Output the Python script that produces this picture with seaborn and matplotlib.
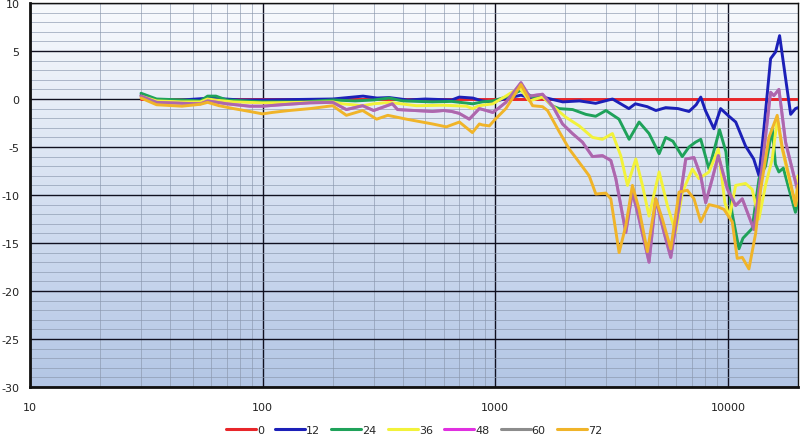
import numpy as np
import pandas as pd
import matplotlib
matplotlib.use("Agg")
import matplotlib.pyplot as plt
import matplotlib.ticker as mticker
from matplotlib.colors import LinearSegmentedColormap
import seaborn as sns

# ---------------- data ----------------
series_names = ["0", "12", "24", "36", "48", "60", "72"]
series_colors = ["#e8262a", "#1c20b8", "#1fa25a", "#f2f23a", "#e030e0", "#8c8c8c", "#f0b429"]

f_0 = [30, 20000]
db_0 = [0.0, 0.0]

f_12 = [30, 35, 45, 60, 80, 100, 200, 270, 310, 350, 420, 500, 650, 700, 800, 880, 975, 1110,
        1290, 1450, 1600, 1800, 1950, 2300, 2700, 3190, 3750, 4000, 4500, 4900, 5400, 6100,
        6800, 7300, 7640, 8000, 8700, 9300, 10100, 10800, 11900, 12900, 13600, 14270, 15250,
        16020, 16670, 17700, 18600, 19500, 20000]
db_12 = [0.4, -0.2, -0.1, 0.1, -0.1, -0.1, 0.0, 0.3, 0.1, 0.15, -0.1, 0.0, -0.1, 0.2, 0.1, -0.2, -0.3, 0.05,
         0.4, 0.0, 0.2, -0.1, -0.3, -0.2, -0.45, 0.0, -1.0, -0.5, -0.8, -1.2, -0.9, -1.0,
         -1.3, -0.6, 0.2, -1.2, -3.1, -1.0, -1.8, -2.4, -4.9, -6.25, -8.0, -3.1, 4.2,
         4.9, 6.6, 2.1, -1.6, -1.0, -0.9]

f_24 = [30, 35, 45, 54, 58, 63, 70, 100, 150, 200, 250, 300, 350, 400, 537, 650, 800, 880, 975, 1110,
        1290, 1450, 1600, 1750, 1880, 2150, 2450, 2700, 2990, 3400, 3760, 4150, 4580, 5060, 5400,
        5800, 6360, 6800, 7250, 7640, 8290, 9200, 9800, 10400, 11150, 11600, 12700, 13600, 14500,
        15500, 16000, 16550, 17300, 18300, 19500, 20000]
db_24 = [0.6, 0.0, -0.1, -0.2, 0.3, 0.3, -0.1, -0.3, -0.3, -0.1, -0.2, -0.1, 0.1, -0.2, -0.3, -0.25, -0.5, -0.3, -0.2, 0.2,
         0.9, 0.2, 0.3, -0.7, -1.0, -1.1, -1.6, -1.8, -1.2, -2.1, -4.2, -2.4, -3.6, -5.7, -4.0,
         -4.4, -6.0, -5.0, -4.5, -4.2, -7.3, -3.2, -5.5, -11.8, -15.6, -14.5, -13.5, -8.3, -7.0,
         -3.1, -6.8, -7.6, -7.2, -9.4, -11.8, -10.8]

f_36 = [30, 35, 45, 54, 58, 65, 75, 100, 150, 200, 220, 269, 300, 350, 458, 600, 751, 797, 854, 975, 1110,
        1268, 1400, 1596, 1760, 2010, 2294, 2616, 2887, 3187, 3460, 3700, 4017, 4290, 4580, 5060,
        5490, 5960, 6370, 7030, 7500, 8290, 9090, 9700, 10150, 10790, 11900, 12700, 13580, 14500,
        15500, 16280, 17100, 18280, 19530, 20000]
db_36 = [0.3, -0.2, -0.3, -0.3, 0.0, -0.15, -0.3, -0.4, -0.35, -0.3, -0.5, -0.7, -0.5, -0.35, -0.7, -0.65, -0.75, -1.0, -0.7, -0.5, 0.3,
         1.2, -0.2, 0.2, -0.7, -1.9, -2.8, -4.0, -4.2, -3.6, -5.9, -9.0, -6.25, -9.0, -12.2, -7.6,
         -11.1, -13.9, -9.7, -7.3, -8.3, -7.6, -5.2, -10.8, -12.3, -9.0, -8.8, -9.4, -12.5, -9.0,
         -6.25, -2.1, -5.2, -8.3, -11.1, -8.0]

f_48 = [30, 35, 45, 54, 58, 62, 70, 88, 100, 120, 160, 200, 229, 269, 300, 361, 380, 450, 537, 600, 650,
        700, 773, 854, 915, 975, 1040, 1110, 1289, 1400, 1596, 1760, 1945, 2146, 2370, 2616, 2887,
        3137, 3296, 3638, 3884, 4150, 4580, 4894, 5310, 5677, 6162, 6584, 7146, 7635, 8023, 8563,
        9090, 9950, 10790, 11520, 12930, 14040, 15250, 15750, 16560, 17690, 19200, 20000]
db_48 = [0.3, -0.35, -0.45, -0.5, -0.2, -0.3, -0.5, -0.75, -0.75, -0.6, -0.4, -0.35, -1.1, -0.7, -1.2, -0.5, -1.1, -1.2, -1.3, -1.2, -1.3,
         -1.5, -2.1, -1.0, -1.2, -1.4, -0.9, -0.35, 1.7, 0.3, 0.5, -0.7, -2.6, -3.6, -4.5, -6.0, -5.9,
         -6.4, -8.3, -13.9, -9.7, -12.5, -17.0, -10.4, -13.9, -16.5, -11.1, -6.25, -6.1, -8.0, -10.8, -8.3,
         -5.9, -9.4, -11.1, -10.4, -13.6, -6.9, 0.7, 0.35, 1.0, -4.5, -8.0, -9.6]

f_60 = list(f_48)
db_60 = list(db_48)

f_72 = [30, 35, 45, 54, 58, 65, 75, 88, 100, 110, 130, 160, 200, 229, 269, 309, 345, 415, 537, 616, 701,
        797, 854, 880, 943, 1000, 1110, 1180, 1289, 1446, 1596, 1677, 1882, 2077, 2294, 2532, 2705,
        2986, 3137, 3405, 3638, 3884, 4150, 4505, 4894, 5224, 5677, 6162, 6688, 7146, 7635, 8289,
        9000, 9612, 10435, 10960, 11520, 12306, 13150, 13810, 15000, 16280, 17100, 18280, 19530, 20000]
db_72 = [0.1, -0.6, -0.75, -0.55, -0.35, -0.7, -1.0, -1.3, -1.55, -1.4, -1.2, -1.0, -0.7, -1.7, -1.2, -2.1, -1.7, -2.1, -2.6, -2.9, -2.4,
         -3.5, -2.6, -2.7, -2.8, -2.1, -1.0, 0.0, 1.5, -0.7, -0.8, -1.2, -3.4, -5.2, -6.6, -8.0, -9.9,
         -9.8, -10.4, -16.0, -13.2, -9.0, -11.5, -15.9, -10.4, -12.5, -15.6, -9.7, -9.5, -10.4, -12.8, -11.0,
         -11.2, -11.5, -12.8, -16.6, -16.5, -17.7, -14.0, -9.5, -4.0, -1.7, -5.0, -8.0, -11.1, -9.0]

y_ticks = [10, 5, 0, -5, -10, -15, -20, -25, -30]
x_ticks = [10, 100, 1000, 10000]
x_tick_labels = ["10", "100", "1000", "10000"]

# ---------------- build long-form table ----------------
freqs = [f_0, f_12, f_24, f_36, f_48, f_60, f_72]
dbs = [db_0, db_12, db_24, db_36, db_48, db_60, db_72]
frames = []
for name, f, d in zip(series_names, freqs, dbs):
    frames.append(pd.DataFrame({"freq": f, "db": d, "series": name}))
df = pd.concat(frames, ignore_index=True)

# ---------------- plot ----------------
sns.set_style("white")
plt.rcParams["font.family"] = ["DejaVu Sans"]
plt.rcParams["axes.unicode_minus"] = False

fig = plt.figure(figsize=(8.0, 4.39), dpi=100)
ax = fig.add_axes([30 / 800, 1 - 388 / 439, 768 / 800, 384 / 439])

# background gradient
grad = np.linspace(0, 1, 256).reshape(-1, 1)
cmap = LinearSegmentedColormap.from_list("bg", ["#f8fafd", "#b3c6e5"])
ax.imshow(grad, extent=[0, 1, 0, 1], transform=ax.transAxes, cmap=cmap,
          aspect="auto", origin="upper", zorder=0)

palette = dict(zip(series_names, series_colors))
sns.lineplot(data=df, x="freq", y="db", hue="series", hue_order=series_names,
             palette=palette, sort=False, estimator=None, linewidth=2.1, ax=ax, zorder=3)

# gray (60) line drawn semi-transparent over magenta (48) -> purple look
data_lines = [ln for ln in ax.get_lines() if len(ln.get_xdata()) > 0]
for ln in data_lines:
    c = matplotlib.colors.to_hex(ln.get_color())
    if c.lower() == "#8c8c8c":
        ln.set_alpha(0.62)

ax.set_xscale("log")
ax.set_xlim(10, 20000)
ax.set_ylim(-30, 10)
ax.set_xticks(x_ticks)
ax.set_xticklabels(x_tick_labels)
ax.xaxis.set_minor_locator(mticker.LogLocator(base=10, subs=np.arange(2, 10)))
ax.xaxis.set_minor_formatter(mticker.NullFormatter())
ax.set_yticks(y_ticks)
ax.set_yticklabels([str(v) for v in y_ticks])
ax.yaxis.set_minor_locator(mticker.MultipleLocator(1))

ax.grid(which="minor", color="#8a97ad", linewidth=0.6, alpha=0.75, zorder=1)
ax.grid(which="major", color="#101020", linewidth=1.0, zorder=1)
ax.set_axisbelow(True)
ax.tick_params(which="both", length=0)
ax.tick_params(axis="y", pad=7.5, labelsize=8, colors="#222222")
ax.tick_params(axis="x", pad=11, labelsize=8, colors="#222222")
ax.set_xlabel("")
ax.set_ylabel("")

for side in ["left", "bottom"]:
    ax.spines[side].set_linewidth(2.0)
    ax.spines[side].set_color("#111111")
for side in ["top", "right"]:
    ax.spines[side].set_linewidth(1.0)
    ax.spines[side].set_color("#111111")

sns.move_legend(ax, "lower center", bbox_to_anchor=(0.5, -0.15), ncol=7,
                title=None, frameon=False, handlelength=2.7, handletextpad=0.1,
                columnspacing=1.0, fontsize=8)
for h in ax.get_legend().legend_handles:
    h.set_linewidth(2.2)
    h.set_alpha(1.0)

fig.savefig("out.png", dpi=100)
